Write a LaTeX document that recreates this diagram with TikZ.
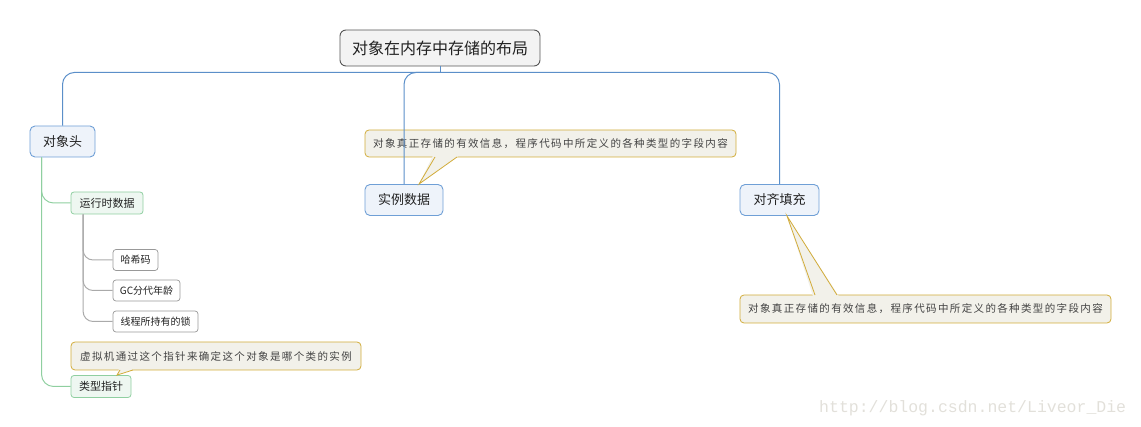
\documentclass[tikz,border=0pt]{standalone}
\usepackage{fontspec}
\setmainfont{Noto Sans CJK SC}
\newfontfamily\notefont[LetterSpace=13]{Noto Sans CJK SC}
\newfontfamily\wmfont{Liberation Mono}
\usetikzlibrary{calc}
\definecolor{bline}{HTML}{5B8FC9}
\definecolor{bbord}{HTML}{6F9FD6}
\definecolor{bfill}{HTML}{EEF3FA}
\definecolor{gline}{HTML}{8FCFA0}
\definecolor{gfill}{HTML}{EEF7F1}
\definecolor{grline}{HTML}{AAAAAA}
\definecolor{grbord}{HTML}{999999}
\definecolor{rbord}{HTML}{555555}
\definecolor{rfill}{HTML}{F3F3F3}
\definecolor{nfill}{HTML}{F2F1EA}
\definecolor{nbord}{HTML}{D2AC3A}
\definecolor{txt}{HTML}{222222}
\definecolor{wm}{HTML}{E2E0DA}
\begin{document}
\begin{tikzpicture}[x=1pt,y=-1pt,
  rootbox/.style={draw=rbord,fill=rfill,line width=0.9pt,rounded corners=6pt,minimum width=200pt,minimum height=36pt,inner sep=0pt,font=\fontsize{16}{18}\selectfont,text=txt},
  l1box/.style={draw=bbord,fill=bfill,line width=0.9pt,rounded corners=5pt,minimum height=31pt,inner sep=0pt,font=\fontsize{13}{15}\selectfont,text=txt},
  l2box/.style={draw=gline,fill=gfill,line width=0.8pt,rounded corners=3pt,minimum height=22pt,inner sep=0pt,font=\fontsize{11}{13}\selectfont,text=txt},
  l3box/.style={draw=grbord,fill=white,line width=0.7pt,rounded corners=3pt,minimum height=21pt,inner sep=0pt,font=\fontsize{10}{12}\selectfont,text=txt},
  notebox/.style={draw=nbord,fill=nfill,line width=0.8pt,rounded corners=4pt,inner sep=0pt,font=\notefont\fontsize{10.5}{12}\selectfont,text=txt!85},
  bconn/.style={draw=bline,line width=1pt,rounded corners=12pt},
  gconn/.style={draw=gline,line width=1pt,rounded corners=12pt},
  grconn/.style={draw=grline,line width=1pt,rounded corners=10pt},
  nptr/.style={draw=nbord,line width=0.8pt}]
\useasboundingbox (0,0) rectangle (1141,427);
% nodes
\node[rootbox] (root) at (440,48) {对象在内存中存储的布局};
\node[l1box,minimum width=65pt] (head) at (62.5,141.5) {对象头};
\node[notebox,minimum width=371pt,minimum height=27pt] (note1) at (550.5,143.5) {对象真正存储的有效信息，程序代码中所定义的各种类型的字段内容};
\node[l1box,minimum width=78pt] (inst) at (404,200) {实例数据};
\node[l1box,minimum width=79pt] (align) at (779.5,200) {对齐填充};
\node[notebox,minimum width=371pt,minimum height=28pt] (note2) at (925.5,309) {对象真正存储的有效信息，程序代码中所定义的各种类型的字段内容};
\node[l2box,minimum width=72pt] (rt) at (107,203) {运行时数据};
\node[l3box,minimum width=45pt] (hash) at (135.5,260) {哈希码};
\node[l3box,minimum width=67pt] (gc) at (146.5,290.5) {GC分代年龄};
\node[l3box,minimum width=85pt] (lock) at (155.5,321.5) {线程所持有的锁};
\node[notebox,minimum width=290pt,minimum height=28pt] (note3) at (216,356) {虚拟机通过这个指针来确定这个对象是哪个类的实例};
\node[l2box,minimum width=60pt] (ptr) at (101,386.5) {类型指针};
\node[font=\wmfont\fontsize{16.5}{18}\selectfont,text=wm,anchor=west,inner sep=0pt] (wmark) at (819,408) {http://blog.csdn.net/Liveor\_Die};
% callout pointers
\coordinate (t1) at ($(inst.north)+(15,0)$);
\fill[nfill] (433,155.5) -- (t1) -- (459,155.5) -- cycle;
\draw[nptr] (435,157) -- (t1) -- (457,157);
\coordinate (t2) at ($(align.south)+(7.5,0)$);
\fill[nfill] (813,296.5) -- (t2) -- (839,296.5) -- cycle;
\draw[nptr] (815,295) -- (t2) -- (837,295);
\coordinate (t3) at ($(ptr.north)+(16,0)$);
\fill[nfill] (119,368.5) -- (t3) -- (135,368.5) -- cycle;
\draw[nptr] (120,370) -- (t3) -- (133,370);
% blue connectors
\coordinate (j) at ($(root.south)+(0,6)$);
\draw[bline,line width=1pt] (root.south) -- (j);
\draw[bconn] (j) -| (head.north);
\draw[bconn] (j) -| (inst.north);
\draw[bconn] (j) -| (align.north);
% green connectors
\coordinate (hb) at ($(head.south west)+(12,0)$);
\draw[gconn] (hb) |- (rt.west);
\draw[gconn] (hb) |- (ptr.west);
% gray connectors
\coordinate (rb) at ($(rt.south west)+(12.5,0)$);
\draw[grconn] (rb) |- (hash.west);
\draw[grconn] (rb) |- (gc.west);
\draw[grconn] (rb) |- (lock.west);
\end{tikzpicture}
\end{document}
